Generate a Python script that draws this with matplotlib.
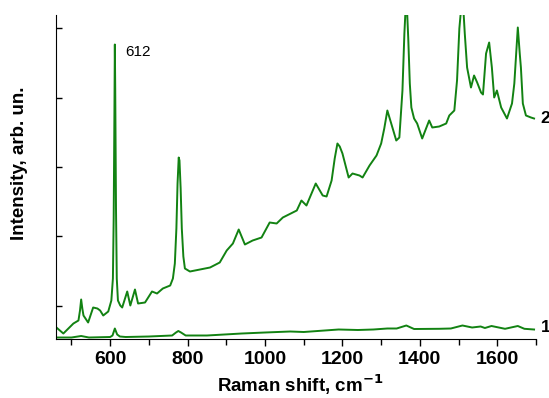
import matplotlib
matplotlib.use("Agg")
import matplotlib.pyplot as plt
from matplotlib.ticker import MultipleLocator

plt.rcParams['font.family'] = ['Liberation Sans', 'DejaVu Sans']

# spectrum 2
shift_2 = [461, 479, 505, 518, 522, 525, 528, 531, 543, 556, 567, 574, 582, 595,
           603, 607, 609, 611, 612, 613, 615, 617, 620, 626, 631, 644, 652, 664,
           672, 690, 708, 721, 736, 755, 762, 767, 771, 774, 777, 779, 782, 785,
           789, 793, 806, 832, 858, 883, 901, 917, 932, 948, 968, 991, 1012, 1030,
           1046, 1082, 1094, 1107, 1131, 1149, 1159, 1172, 1180, 1187, 1193, 1200,
           1216, 1226, 1244, 1252, 1270, 1288, 1300, 1308, 1316, 1326, 1339, 1347,
           1355, 1360, 1365, 1370, 1374, 1378, 1385, 1393, 1406, 1424, 1432, 1450,
           1468, 1476, 1489, 1496, 1502, 1510, 1516, 1522, 1532, 1540, 1548, 1558,
           1563, 1571, 1579, 1586, 1592, 1599, 1610, 1625, 1638, 1644, 1648, 1653,
           1658, 1661, 1666, 1674, 1687, 1695]
intensity_2 = [11, 5, 15, 18, 28, 39, 30, 23, 16, 31, 30, 28, 23, 27,
               38, 60, 120, 230, 294, 250, 130, 60, 38, 33, 31, 47, 33, 49,
               35, 36, 47, 45, 50, 53, 60, 75, 110, 155, 181, 178, 150, 110,
               82, 70, 67, 69, 71, 76, 88, 95, 109, 94, 98, 101, 116, 115,
               121, 128, 138, 133, 155, 143, 142, 158, 180, 195, 192, 185,
               161, 165, 163, 161, 173, 183, 195, 210, 228, 215, 198, 201,
               248, 305, 345, 300, 255, 231, 220, 215, 200, 218, 211, 212,
               215, 223, 228, 258, 310, 345, 305, 271, 251, 263, 256, 246,
               244, 285, 296, 271, 241, 248, 231, 220, 235, 255, 280, 311,
               285, 271, 235, 223, 221, 220]

# spectrum 1
shift_1 = [461, 500, 525, 545, 600, 606, 612, 618, 625, 640, 700, 760, 770, 776,
           783, 795, 850, 940, 1000, 1065, 1100, 1190, 1240, 1280, 1316, 1340,
           1365, 1385, 1450, 1480, 1510, 1535, 1557, 1568, 1585, 1620, 1653, 1670,
           1695]
intensity_1 = [1, 1, 2.5, 1, 1.5, 3, 10, 4, 2, 1.5, 2, 3, 6, 7.5,
               6, 3, 3, 5, 6, 7, 6.5, 9, 8.5, 9, 10, 10,
               13, 9.5, 9.7, 10, 13, 11, 12, 10.5, 12.5, 9.7, 12.5, 9.7,
               9]

green = '#128212'

fig = plt.figure(figsize=(5.49, 3.98), dpi=100)
ax = fig.add_axes([56 / 549, 1 - 338.5 / 398, 480 / 549, 323.5 / 398])

ax.plot(shift_2, intensity_2, color=green, lw=1.4)
ax.plot(shift_1, intensity_1, color=green, lw=1.4)

ax.set_xlim(460, 1700)
ax.set_ylim(0, 323.5)

ax.spines['top'].set_visible(False)
ax.spines['right'].set_visible(False)

ax.xaxis.set_major_locator(MultipleLocator(200))
ax.xaxis.set_minor_locator(MultipleLocator(100))
ax.tick_params(axis='x', which='major', direction='out', length=5, width=1,
               labelsize=14, pad=4)
ax.tick_params(axis='x', which='minor', direction='out', length=4, width=1)
for lab in ax.get_xticklabels():
    lab.set_fontweight('bold')

ax.set_yticks([33, 102.3, 171.6, 240.9, 310.2])
ax.tick_params(axis='y', direction='in', length=4, width=1, labelleft=False)

ax.text(640, 286, '612', fontsize=11, va='center', ha='left')
ax.text(1712, 220, '2', fontsize=12.5, fontweight='bold', va='center',
        ha='left', clip_on=False)
ax.text(1712, 11, '1', fontsize=12.5, fontweight='bold', va='center',
        ha='left', clip_on=False)

fig.text(300 / 549, 1 - 385 / 398, 'Raman shift, cm$^{\\mathbf{-1}}$',
         fontsize=13.5, fontweight='bold', ha='center', va='center')
fig.text(20 / 549, 1 - 163 / 398, 'Intensity, arb. un.', fontsize=13.5,
         fontweight='bold', rotation=90, ha='center', va='center')

fig.savefig('out.png', dpi=100)
